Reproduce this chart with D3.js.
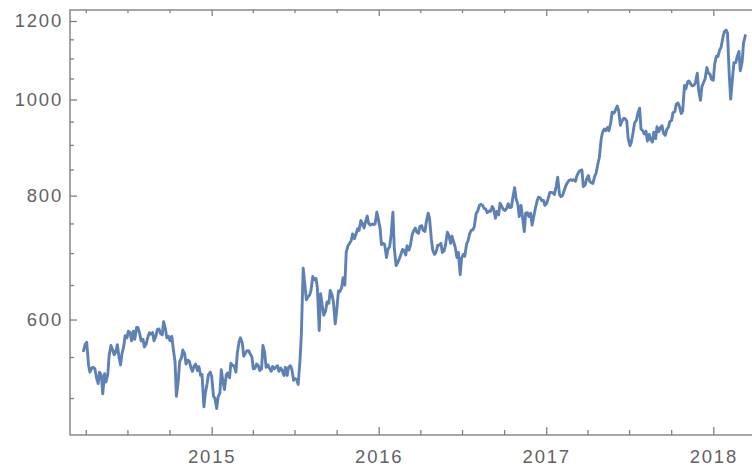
<!DOCTYPE html>
<html>
<head>
<meta charset="utf-8">
<script src="https://cdn.jsdelivr.net/npm/d3@7"></script>
<style>
  html, body { margin: 0; padding: 0; background: #ffffff; }
  svg { display: block; }
</style>
</head>
<body>
<script>
// ---- Data (closing prices, sampled every Monday and Thursday from 2014-03-27) ----
const firstDate = "2014-03-27";
const closes2014 = [
  558, 567, 569, 540, 531, 536, 537, 535, 525, 517,
  531, 527, 505, 529, 519, 528, 552, 565, 560, 553,
  556, 566, 552, 540, 554, 564, 578, 575, 584, 582,
  571, 584, 573, 589, 589, 580, 571, 573, 563, 567,
  575, 582, 580, 582, 571, 577, 586, 587, 581, 579,
  597, 587, 575, 577, 571, 577, 561, 544, 502, 520,
  544, 549, 559, 554, 541, 546, 545, 536, 532, 539,
  541, 533, 538, 527, 528, 490, 505, 517, 528, 531
];
const closes2015 = [
  526, 502, 500, 488, 501, 506, 534, 518, 510, 528,
  530, 524, 542, 539, 539, 531, 555, 570, 575, 568,
  551, 555, 558, 558, 554, 550, 535, 536, 541, 539,
  533, 535, 565, 555, 537, 540, 536, 532, 538, 535,
  537, 539, 532, 536, 533, 527, 537, 527, 537, 539,
  535, 521, 523, 522, 516, 546, 580, 676, 654, 628,
  632, 635, 642, 663, 658, 660, 646, 585, 637, 618,
  606, 612, 625, 623, 642, 635, 625, 594, 611, 641,
  640, 646, 661, 650, 702, 712, 716, 721, 732, 724,
  731, 741, 738, 755, 750, 742, 752, 763, 750, 747,
  749, 748, 749, 770, 758
];
const closes2016 = [
  741, 714, 716, 714, 693, 706, 711, 730, 770, 708,
  680, 684, 691, 697, 706, 705, 697, 712, 705, 712,
  730, 737, 742, 735, 733, 745, 746, 738, 736, 753,
  768, 759, 723, 705, 698, 701, 713, 713, 716, 701,
  704, 714, 735, 730, 716, 728, 718, 710, 693, 701,
  666, 692, 698, 695, 715, 720, 733, 738, 739, 745,
  768, 771, 782, 784, 782, 777, 775, 769, 772, 771,
  780, 776, 759, 771, 765, 786, 780, 775, 773, 776,
  785, 778, 779, 796, 815, 795, 784, 762, 782, 762,
  736, 768, 769, 762, 768, 747, 763, 776, 790, 797,
  796, 791, 791, 782
];
const closes2017 = [
  786, 794, 806, 806, 805, 802, 819, 835, 802, 798,
  801, 809, 819, 824, 829, 830, 829, 830, 827, 838,
  845, 848, 849, 817, 820, 831, 838, 827, 824, 823,
  837, 843, 862, 874, 912, 927, 934, 930, 937, 930,
  948, 971, 969, 975, 985, 976, 942, 950, 957, 957,
  951, 913, 898, 906, 928, 947, 953, 968, 980, 934,
  930, 923, 929, 908, 922, 911, 906, 927, 913, 939,
  928, 936, 941, 925, 920, 932, 938, 950, 953, 970,
  972, 989, 992, 984, 968, 973, 1033, 1025, 1042, 1044,
  1036, 1032, 1034, 1040, 1063, 1021, 998, 1030, 1041, 1049,
  1077, 1064, 1060, 1048
];
const closes2018 = [
  1046, 1086, 1106, 1105, 1122, 1129, 1155, 1170, 1175, 1167,
  1055, 1001, 1052, 1089, 1089, 1104, 1118, 1069, 1091, 1140,
  1160
];

const yMajorTicks = [600, 800, 1000, 1200];
const yMinorTicks = [500, 550, 650, 700, 750, 850, 900, 950, 1050, 1100, 1150];
const xMajorTickYears = [2015, 2016, 2017, 2018];

// ---- Layout ----
const W = 752, H = 470;
const plotLeft = 70, plotTop = 10, plotBottom = 435, plotRight = 800;
const lineColor = "#5e81b5";
const frameColor = "#808080";
const labelColor = "#626262";

const svg = d3.select("body").append("svg")
  .attr("width", W).attr("height", H);

const x = d3.scaleUtc()
  .domain([new Date(Date.UTC(2014, 0, 1)), new Date(Date.UTC(2018, 0, 1))])
  .range([44.6, 713.3]);

const y = d3.scaleLog()
  .domain([458.9, 1231])
  .range([plotBottom, plotTop]);

// Build series
const values = [].concat(closes2014, closes2015, closes2016, closes2017, closes2018);
const start = new Date(firstDate + "T00:00:00Z");
const sampleDays = d3.utcDays(start, d3.utcDay.offset(start, 1500))
  .filter(d => d.getUTCDay() === 1 || d.getUTCDay() === 4);
const series = values.map((v, i) => ({ date: sampleDays[i], value: v }));

// Clip
svg.append("defs").append("clipPath").attr("id", "plotclip")
  .append("rect")
  .attr("x", plotLeft).attr("y", plotTop)
  .attr("width", plotRight - plotLeft).attr("height", plotBottom - plotTop);

// Line
const line = d3.line()
  .x(d => x(d.date))
  .y(d => y(d.value))
  .curve(d3.curveLinear);

svg.append("path")
  .datum(series)
  .attr("clip-path", "url(#plotclip)")
  .attr("fill", "none")
  .attr("stroke", lineColor)
  .attr("stroke-width", 2.9)
  .attr("stroke-linejoin", "round")
  .attr("stroke-linecap", "round")
  .attr("d", line);

// Tick dates
const quarterTicks = d3.utcMonth.every(3).range(
  new Date(Date.UTC(2014, 3, 1)), new Date(Date.UTC(2018, 6, 1)));
const yearTicks = xMajorTickYears.map(yr => new Date(Date.UTC(yr, 0, 1)));
const minorQuarterTicks = quarterTicks.filter(d => d.getUTCMonth() !== 0);

const fontStyle = sel => sel
  .attr("font-family", "'Liberation Sans', Arial, Helvetica, sans-serif")
  .attr("font-size", 18.5)
  .attr("letter-spacing", 1.8)
  .attr("fill", labelColor);

function styleAxis(g) {
  g.select(".domain").remove();
  g.selectAll(".tick line").attr("stroke", frameColor).attr("stroke-width", 1.3);
  fontStyle(g.selectAll("text"));
}

// Bottom axis: minor + major
svg.append("g").attr("transform", `translate(0,${plotBottom})`)
  .call(d3.axisBottom(x).tickValues(minorQuarterTicks).tickFormat("").tickSizeInner(-5).tickSizeOuter(0))
  .call(styleAxis);
svg.append("g").attr("transform", `translate(0,${plotBottom})`)
  .call(d3.axisBottom(x).tickValues(yearTicks).tickFormat(d3.utcFormat("%Y"))
    .tickSizeInner(-8).tickSizeOuter(0).tickPadding(15))
  .call(styleAxis);

// Top (mirrored) ticks
svg.append("g").attr("transform", `translate(0,${plotTop})`)
  .call(d3.axisTop(x).tickValues(minorQuarterTicks).tickFormat("").tickSizeInner(-3).tickSizeOuter(0))
  .call(styleAxis);
svg.append("g").attr("transform", `translate(0,${plotTop})`)
  .call(d3.axisTop(x).tickValues(yearTicks).tickFormat("").tickSizeInner(-6).tickSizeOuter(0))
  .call(styleAxis);

// Left axis
svg.append("g").attr("transform", `translate(${plotLeft},0)`)
  .call(d3.axisLeft(y).tickValues(yMinorTicks).tickFormat("").tickSizeInner(-4).tickSizeOuter(0))
  .call(styleAxis);
svg.append("g").attr("transform", `translate(${plotLeft},0)`)
  .call(d3.axisLeft(y).tickValues(yMajorTicks).tickFormat(d3.format("d"))
    .tickSizeInner(-7).tickSizeOuter(0).tickPadding(7))
  .call(styleAxis);

// Frame
svg.append("rect")
  .attr("x", plotLeft).attr("y", plotTop)
  .attr("width", plotRight - plotLeft).attr("height", plotBottom - plotTop)
  .attr("fill", "none")
  .attr("stroke", frameColor)
  .attr("stroke-width", 1.4);
</script>
</body>
</html>
